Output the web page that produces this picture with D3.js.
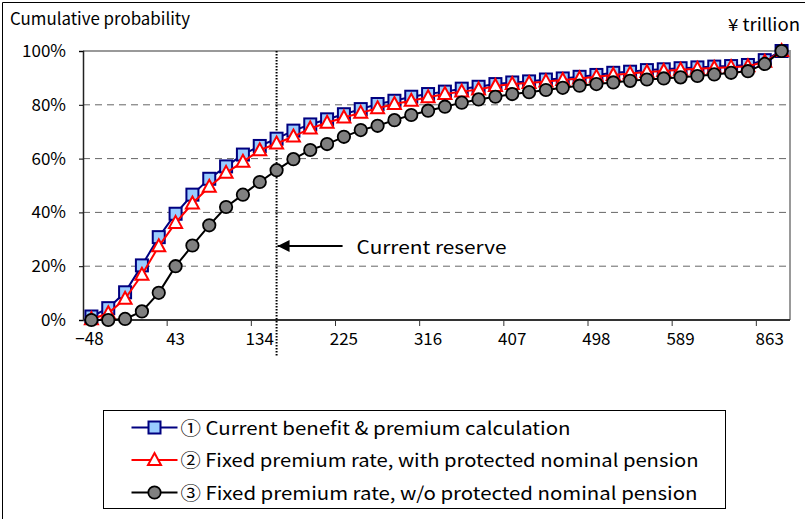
<!DOCTYPE html>
<html>
<head>
<meta charset="utf-8">
<script src="https://cdn.jsdelivr.net/npm/d3@7"></script>
<style>
  body { margin: 0; background: #fff; }
  svg { display: block; font-family: "Noto Sans CJK JP", "DejaVu Sans", sans-serif; }
</style>
</head>
<body>
<div id="chart"></div>
<script>
// x axis labels, one every 5 categories
const tickLabels = ["\u221248", "43", "134", "225", "316", "407", "498", "589", "863"];
const tickIndex = [0, 5, 10, 15, 20, 25, 30, 35, 40];
const nCats = 42;
const reserveIndex = 11; // where the current reserve sits

// cumulative probability (%) per category
const current = [1.3, 4.4, 10.3, 20.3, 30.8, 39.5, 46.6, 52.5, 57.1, 61.5, 64.7, 67.4, 70.4, 72.7, 74.6, 76.5, 78.4, 80.3, 81.5, 83.0, 84.0, 84.9, 86.0, 86.7, 87.7, 88.3, 88.7, 89.4, 89.8, 90.4, 91.1, 91.9, 92.3, 92.9, 93.2, 93.6, 93.9, 94.2, 94.4, 94.8, 96.6, 100];
const fixedProtected = [0.3, 2.5, 7.9, 16.8, 27.4, 36.1, 43.3, 49.5, 54.7, 58.8, 63.1, 65.6, 68.2, 71.2, 73.3, 75.3, 77.0, 78.7, 80.3, 81.5, 82.8, 84.0, 84.9, 85.7, 87.0, 87.7, 88.1, 88.7, 89.2, 89.8, 90.4, 91.1, 91.6, 92.2, 92.6, 93.0, 93.4, 93.7, 94.0, 94.3, 96.0, 100];
const fixedUnprotected = [0, 0, 0.4, 3.2, 10.1, 20.0, 27.7, 35.2, 42.0, 46.6, 51.3, 55.7, 59.8, 63.2, 65.4, 68.1, 70.6, 72.2, 74.3, 76.2, 77.8, 79.3, 80.8, 82.0, 83.0, 84.0, 84.7, 85.5, 86.3, 87.1, 87.7, 88.3, 88.9, 89.4, 89.8, 90.2, 90.7, 91.3, 91.9, 92.5, 95.2, 100];

const yTicks = [0, 20, 40, 60, 80, 100];

const seriesNames = [
  "\u2460 Current benefit & premium calculation",
  "\u2461 Fixed premium rate, with protected nominal pension",
  "\u2462 Fixed premium rate, w/o protected nominal pension"
];
const legendTextWidth = [390, 518, 517];

const width = 805, height = 519;
const margin = {top: 51, left: 83, right: 15, bottom: 199};
const innerWidth = width - margin.left - margin.right;
const innerHeight = height - margin.top - margin.bottom;

const svg = d3.select("#chart").append("svg")
  .attr("width", width)
  .attr("height", height);

// outer frame (left and top edges are the only visible ones)
svg.append("path")
  .attr("d", `M2.5,${height}V2.5H${width}`)
  .attr("fill", "none").attr("stroke", "#000").attr("stroke-width", 1);

svg.append("text")
  .attr("x", 10).attr("y", 25)
  .attr("font-size", 17)
  .attr("textLength", 180).attr("lengthAdjust", "spacingAndGlyphs")
  .text("Cumulative probability");

svg.append("text")
  .attr("x", 728).attr("y", 31)
  .attr("font-size", 17)
  .attr("textLength", 72).attr("lengthAdjust", "spacingAndGlyphs")
  .text("\u00a5 trillion");

const g = svg.append("g")
  .attr("transform", `translate(${margin.left},${margin.top})`);

const xScale = d3.scaleBand()
  .domain(d3.range(nCats))
  .range([0, innerWidth]);

const yScale = d3.scaleLinear()
  .domain([0, 100])
  .range([innerHeight, 0]);

const cx = i => xScale(i) + xScale.bandwidth() / 2;

// dashed gridlines
g.selectAll(".grid")
  .data(yTicks.filter(d => d > 0 && d < 100))
  .join("line")
  .attr("x1", 0).attr("x2", innerWidth)
  .attr("y1", d => yScale(d)).attr("y2", d => yScale(d))
  .attr("stroke", "#666").attr("stroke-width", 1)
  .attr("stroke-dasharray", "7,5");

// gray plot border top & right
g.append("path")
  .attr("d", `M0,${yScale(100)}H${innerWidth}V${innerHeight}`)
  .attr("fill", "none").attr("stroke", "#999").attr("stroke-width", 2);

// y axis
const yAxis = d3.axisLeft(yScale)
  .tickValues(yTicks)
  .tickFormat(d => d + "%")
  .tickSize(4)
  .tickPadding(13);

const yG = g.append("g").call(yAxis);
yG.select(".domain").attr("stroke", "#222").attr("stroke-width", 1.5);
yG.selectAll("text").attr("font-size", 17).attr("fill", "#000")
  .attr("font-family", "'Noto Sans CJK JP', sans-serif");

// x axis, ticks between categories every 5
const xG = g.append("g").attr("transform", `translate(0,${innerHeight})`);
xG.append("line")
  .attr("x1", 0).attr("x2", innerWidth)
  .attr("stroke", "#333").attr("stroke-width", 2);
xG.selectAll(".xtick")
  .data(tickIndex.slice(1))
  .join("line")
  .attr("x1", d => xScale(d)).attr("x2", d => xScale(d))
  .attr("y1", 0).attr("y2", 6)
  .attr("stroke", "#333");
xG.selectAll(".xlab")
  .data(tickIndex)
  .join("text")
  .attr("x", (d, i) => cx(d) + (i === 0 ? -2 : 0) + (i === tickIndex.length - 1 ? 5 : 0))
  .attr("y", 25)
  .attr("text-anchor", "middle")
  .attr("font-size", 17)
  .text((d, i) => tickLabels[i]);

// current reserve marker
const rx = cx(reserveIndex);
g.append("line")
  .attr("x1", rx).attr("x2", rx)
  .attr("y1", 0).attr("y2", 305)
  .attr("stroke", "#000").attr("stroke-width", 2)
  .attr("stroke-dasharray", "1.5,1.5");

svg.append("defs").append("marker")
  .attr("id", "arrow")
  .attr("viewBox", "0 0 10 10")
  .attr("refX", 10).attr("refY", 5)
  .attr("markerWidth", 7).attr("markerHeight", 6)
  .attr("markerUnits", "strokeWidth")
  .attr("orient", "auto")
  .append("path").attr("d", "M0,0L10,5L0,10z").attr("fill", "#000");

g.append("line")
  .attr("x1", rx + 66).attr("x2", rx + 1)
  .attr("y1", 195).attr("y2", 195)
  .attr("stroke", "#000").attr("stroke-width", 2)
  .attr("marker-end", "url(#arrow)");

g.append("text")
  .attr("x", rx + 80).attr("y", 203)
  .attr("font-size", 18)
  .attr("textLength", 150).attr("lengthAdjust", "spacingAndGlyphs")
  .text("Current reserve");

// series
const series = [
  {values: current, color: "#000080", width: 2, shape: "square"},
  {values: fixedProtected, color: "#ff0000", width: 2, shape: "triangle"},
  {values: fixedUnprotected, color: "#000", width: 2, shape: "circle"}
];

const lineGen = d3.line()
  .x((d, i) => cx(i))
  .y(d => yScale(d));

const drawMarker = (sel, shape, color) => {
  if (shape === "square") {
    sel.append("rect")
      .attr("x", -6).attr("y", -6).attr("width", 12).attr("height", 12)
      .attr("fill", "#99ccff").attr("stroke", color).attr("stroke-width", 2);
  } else if (shape === "triangle") {
    sel.append("path")
      .attr("d", "M0,-7L6.5,5L-6.5,5Z")
      .attr("fill", "#fff").attr("stroke", color).attr("stroke-width", 2);
  } else {
    sel.append("circle")
      .attr("r", 6.2)
      .attr("fill", "#808080").attr("stroke", "#000").attr("stroke-width", 1.8);
  }
};

series.forEach(s => {
  g.append("path")
    .attr("d", lineGen(s.values))
    .attr("fill", "none")
    .attr("stroke", s.color)
    .attr("stroke-width", s.width);
  g.append("g").selectAll("g")
    .data(s.values)
    .join("g")
    .attr("transform", (d, i) => `translate(${cx(i)},${yScale(d)})`)
    .each(function() { drawMarker(d3.select(this), s.shape, s.color); });
});

// legend
const legend = svg.append("g").attr("transform", "translate(103.5,410.5)");
legend.append("rect")
  .attr("width", 622).attr("height", 98)
  .attr("fill", "#fff").attr("stroke", "#000").attr("stroke-width", 1);

series.forEach((s, i) => {
  const row = legend.append("g").attr("transform", `translate(0,${17 + i * 32.5})`);
  row.append("line")
    .attr("x1", 28).attr("x2", 74)
    .attr("stroke", s.color).attr("stroke-width", s.width);
  drawMarker(row.append("g").attr("transform", "translate(51,0)"), s.shape, s.color);
  row.append("text")
    .attr("x", 77).attr("y", 7)
    .attr("font-size", 18)
    .attr("textLength", legendTextWidth[i]).attr("lengthAdjust", "spacingAndGlyphs")
    .text(seriesNames[i]);
});
</script>
</body>
</html>
